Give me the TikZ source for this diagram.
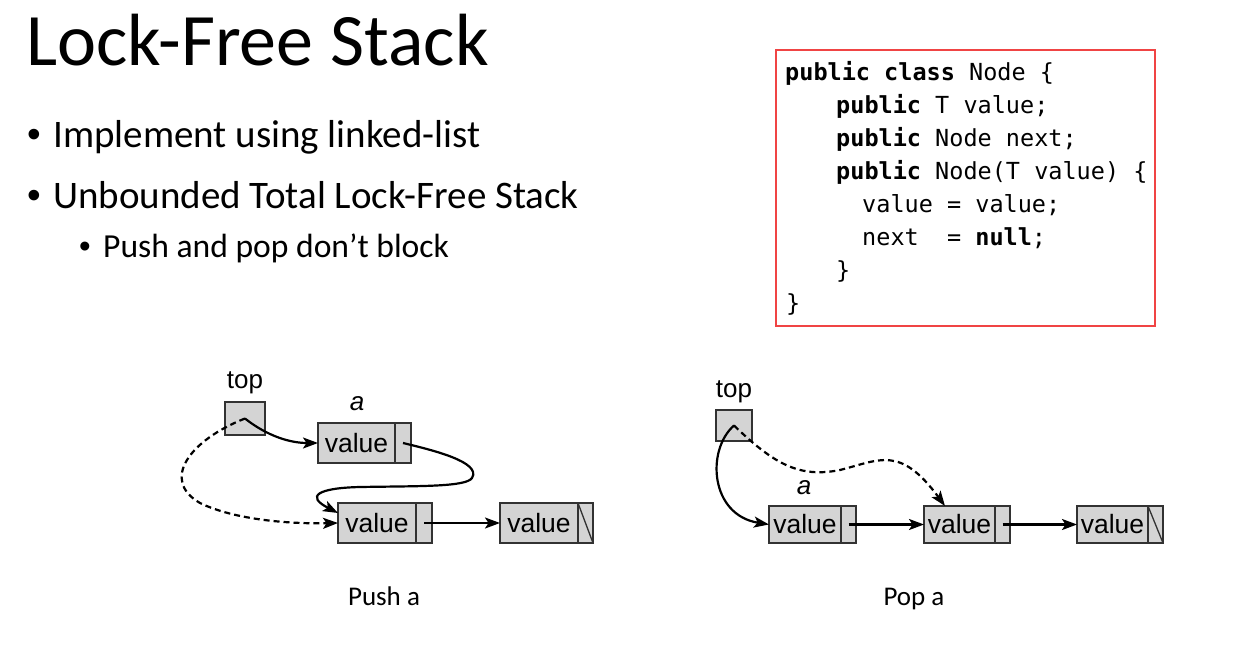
\documentclass[tikz,border=0pt]{standalone}
\usepackage{fontspec}
\setmainfont{Carlito}
\newfontfamily\diagfont{Liberation Sans}
\newfontfamily\codefont{DejaVu Sans Mono}
\usetikzlibrary{arrows.meta}

\definecolor{cellfill}{RGB}{212,212,212}
\definecolor{celledge}{RGB}{50,50,50}
\definecolor{codered}{RGB}{240,68,68}

\tikzset{
  cell/.style={draw=celledge, fill=cellfill, line width=1.3pt, inner sep=0pt, outer sep=0pt,
    anchor=north west, font=\diagfont\fontsize{26.5}{28}\selectfont},
  ptr/.style={-{Stealth[length=15pt,width=11pt,inset=3.5pt]}, line width=2.2pt},
  dashptr/.style={ptr, dash pattern=on 6pt off 4pt},
  lbl/.style={anchor=base, inner sep=0pt, font=\diagfont\fontsize{26}{28}\selectfont},
  codeline/.style={anchor=base west, inner sep=0pt, font=\codefont\fontsize{23.5}{28}\selectfont},
  caption/.style={anchor=base, inner sep=0pt, font=\fontsize{27}{30}\selectfont},
  bul/.style={anchor=base west, inner sep=0pt},
  dot/.style={anchor=base west, inner sep=0pt, font=\diagfont\fontsize{39}{44}\selectfont},
}

\begin{document}
\begin{tikzpicture}[x=1pt, y=-1pt]
\useasboundingbox[fill=white] (0,0) rectangle (1235,645);

% heading and bullet list
\node[bul, font=\fontsize{74}{80}\selectfont] (title) at (26,65) {Lock-Free Stack};
\node[dot] (b1m) at (27,147) {•};
\node[bul, font=\fontsize{39}{44}\selectfont] (b1) at (53,147) {Implement using linked-list};
\node[dot] (b2m) at (27,208) {•};
\node[bul, font=\fontsize{39}{44}\selectfont] (b2) at (53,208) {Unbounded Total Lock-Free Stack};
\node[dot, font=\diagfont\fontsize{33}{38}\selectfont] (b3m) at (79,257) {•};
\node[bul, font=\fontsize{33.6}{38}\selectfont] (b3) at (103,257) {Push and pop don’t block};

% Node class listing
\node[draw=codered, line width=1.8pt, minimum width=379pt, minimum height=276pt,
      anchor=north west, inner sep=0pt] (codebox) at (775,49) {};
\node[codeline] (c1) at (785,80)  {\textbf{public class} Node \{};
\node[codeline] (c2) at (836,113) {\textbf{public} T value;};
\node[codeline] (c3) at (836,146) {\textbf{public} Node next;};
\node[codeline] (c4) at (836,179) {\textbf{public} Node(T value) \{};
\node[codeline] (c5) at (862,212) {value = value;};
\node[codeline] (c6) at (862,245) {next\ \ = \textbf{null};};
\node[codeline] (c7) at (836,278) {\}};
\node[codeline] (c8) at (786,311) {\}};

% ---------- push ----------
\node[lbl] (ptoplbl) at (245,388) {top};
\node[cell, minimum width=40pt, minimum height=33pt] (ptop) at (225,402) {};
\node[lbl, font=\diagfont\itshape\fontsize{26}{28}\selectfont] (palbl) at (357,410) {a};

\node[cell, minimum width=77pt, minimum height=40pt] (pa) at (318,423) {value};
\node[cell, minimum width=16pt, minimum height=40pt] (pap) at (pa.north east) {};

\node[cell, minimum width=78pt, minimum height=40pt] (p2) at (338,503) {value};
\node[cell, minimum width=16pt, minimum height=40pt] (p2p) at (p2.north east) {};

\node[cell, minimum width=78pt, minimum height=40pt] (p3) at (500,503) {value};
\node[cell, minimum width=15pt, minimum height=40pt] (p3p) at (p3.north east) {};
\draw[celledge, line width=1.3pt] (p3p.north west) -- (p3p.south east);

\draw[ptr] (ptop.center) .. controls (262,432) and (285,443) .. (pa.west);
\draw[ptr] (pap.center) .. controls (432,450) and (482,462) .. (472,478)
  .. controls (466,487) and (420,486) .. (360,487)
  .. controls (318,488) and (305,496) .. ([yshift=10pt]p2.west);
\draw[dashptr] (ptop.center) .. controls (190,440) and (160,480) .. (200,503)
  .. controls (235,520) and (290,524) .. (p2.west);
\draw[ptr] (p2p.center) -- (p3.west);

\node[caption] (pushcap) at (384,605) {Push a};

% ---------- pop ----------
\node[lbl] (qtoplbl) at (734,397) {top};
\node[cell, minimum width=36pt, minimum height=31pt] (qtop) at (716,410) {};
\node[lbl, font=\diagfont\itshape\fontsize{26}{28}\selectfont] (qalbl) at (804,494) {a};

\node[cell, minimum width=72pt, minimum height=37pt] (qa) at (769,506) {value};
\node[cell, minimum width=15pt, minimum height=37pt] (qap) at (qa.north east) {};

\node[cell, minimum width=71pt, minimum height=37pt] (q2) at (924,506) {value};
\node[cell, minimum width=15pt, minimum height=37pt] (q2p) at (q2.north east) {};

\node[cell, minimum width=71pt, minimum height=37pt] (q3) at (1077,506) {value};
\node[cell, minimum width=15pt, minimum height=37pt] (q3p) at (q3.north east) {};
\draw[celledge, line width=1.3pt] (q3p.north west) -- (q3p.south east);

\draw[ptr] (qtop.center) .. controls (706,450) and (710,515) .. (qa.west);
\draw[dashptr] (qtop.center) .. controls (775,465) and (800,478) .. (840,470)
  .. controls (880,460) and (900,445) .. ([xshift=21pt]q2.north west);
\draw[ptr] (qap.center) -- (q2.west);
\draw[ptr] (q2p.center) -- (q3.west);

\node[caption] (popcap) at (914,605) {Pop a};
\end{tikzpicture}
\end{document}
